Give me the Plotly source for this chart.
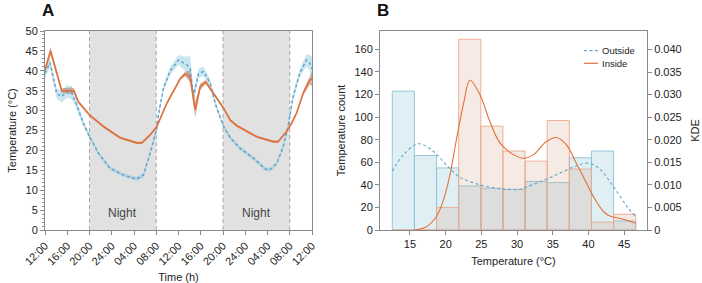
import plotly.graph_objects as go

# ---------------- Panel A data ----------------
time_ticks = [0, 4, 8, 12, 16, 20, 24, 28, 32, 36, 40, 44, 48]
time_labels = ["12:00", "16:00", "20:00", "24:00", "04:00", "08:00", "12:00",
               "16:00", "20:00", "24:00", "04:00", "08:00", "12:00"]
night_periods = [(8, 20), (32, 44)]

out_h = [0, 0.9, 2.1, 3.0, 3.9, 4.8, 5.7, 6.9, 8.0, 9.6, 11.7, 14.1, 16.5, 17.7,
         18.9, 19.5, 20.1, 20.4, 21.3, 22.5, 24.0, 25.5, 26.1, 26.7, 27.6, 28.5,
         29.7, 30.6, 32.1, 33.3, 35.1, 37.5, 39.6, 40.4, 41.7, 42.8, 43.7, 44.6,
         45.8, 47.0, 47.6, 48.0]
out_mean = [39.4, 42.0, 34.3, 33.5, 34.8, 34.5, 31.4, 26.8, 23.5, 19.3, 15.5, 13.8, 12.8, 13.8,
            19.3, 22.5, 25.5, 29.0, 35.6, 40.0, 42.7, 41.5, 40.5, 33.5, 39.4, 39.8,
            36.9, 31.8, 26.0, 23.2, 20.5, 18.0, 15.3, 15.1, 16.8, 20.9, 26.0, 33.5,
            39.4, 42.7, 42.0, 40.5]
out_err = [1.2, 1.2, 1.3, 1.5, 1.6, 1.6, 1.2, 0.8, 0.6, 0.5, 0.5, 0.5, 0.5, 0.6,
           0.6, 0.8, 0.8, 0.8, 0.8, 1.0, 1.2, 2.0, 3.5, 1.5, 1.2, 1.2,
           1.0, 0.8, 0.6, 0.6, 0.5, 0.5, 0.5, 0.5, 0.5, 0.6, 0.8, 0.8,
           1.0, 1.5, 2.0, 3.0]

in_h = [0, 1.0, 3.0, 4.8, 5.2, 6.0, 8.0, 10.5, 13.5, 16.5, 17.4, 18.9, 20.1, 21.9,
        24.3, 25.2, 26.1, 27.0, 27.9, 28.9, 30.3, 32.1, 33.3, 34.5, 38.1, 41.0,
        41.9, 43.4, 44.2, 45.2, 46.4, 47.6, 48.0]
in_mean = [40.2, 45.0, 35.0, 35.0, 35.0, 32.2, 28.9, 26.0, 23.2, 21.9, 21.9, 23.9, 26.0, 31.8,
           38.0, 39.2, 38.5, 30.2, 36.0, 37.2, 34.3, 30.6, 27.6, 26.2, 23.4, 22.2,
           22.2, 24.7, 26.5, 29.3, 34.3, 37.7, 38.0]
in_err = [0.6, 1.0, 0.6, 0.8, 0.6, 0.4, 0.3, 0.3, 0.3, 0.3, 0.3, 0.3, 0.3, 0.3,
          0.4, 0.6, 1.5, 2.0, 0.8, 0.5, 0.4, 0.3, 0.3, 0.3, 0.3, 0.3,
          0.3, 0.3, 0.3, 0.4, 0.6, 1.2, 1.8]

# ---------------- Panel B data ----------------
bin_edges = [12.52, 15.62, 18.72, 21.82, 24.92, 28.02, 31.12, 34.22, 37.32, 40.42, 43.52, 46.62]
outside_counts = [123, 66, 55, 39, 37, 36, 43, 42, 64, 70, 8]
inside_counts = [0, 0, 20, 169, 92, 70, 61, 97, 54, 7, 14]

kde_out_t = [12.5, 14.1, 16.2, 18.3, 20.1, 22.0, 24.8, 27.6, 29.0, 30.4, 31.1, 33.7, 36.0,
             38.3, 40.0, 41.6, 43.5, 45.4, 46.6]
kde_out = [0.0130, 0.0167, 0.0191, 0.0174, 0.0144, 0.0117, 0.0100, 0.0091, 0.0090, 0.0090,
           0.0094, 0.0110, 0.0126, 0.0142, 0.0148, 0.0135, 0.0096, 0.0052, 0.0030]
kde_in_t = [15.7, 17.3, 18.7, 19.7, 20.6, 21.5, 22.5, 23.4, 24.8, 26.2, 27.6, 29.5, 30.9,
            32.3, 34.1, 35.5, 36.9, 38.3, 39.5, 40.7, 42.1, 43.0, 44.9, 46.6]
kde_in = [0.0, 0.0007, 0.0030, 0.0067, 0.0122, 0.0200, 0.0280, 0.0332, 0.0300, 0.0240,
          0.0193, 0.0167, 0.0159, 0.0167, 0.0196, 0.0205, 0.0189, 0.0148, 0.0111, 0.0074,
          0.0041, 0.0031, 0.0024, 0.0015]

count_ticks = [0, 20, 40, 60, 80, 100, 120, 140, 160]
kde_ticks = [0, 0.005, 0.010, 0.015, 0.020, 0.025, 0.030, 0.035, 0.040]
kde_labels = ["0", "0.005", "0.010", "0.015", "0.020", "0.025", "0.030", "0.035", "0.040"]
legend_names = ["Outside", "Inside"]

# ---------------- styles ----------------
ORANGE = "#e2703a"
BLUE = "#5fa6cc"
AXC = "#8a8a8a"
FONT = "Liberation Sans"
TXT = "#222222"
DASH = "3px,2.5px"

fig = go.Figure()


def band(x, m, e, color, xa, ya):
    upper = [a + b for a, b in zip(m, e)]
    lower = [a - b for a, b in zip(m, e)]
    fig.add_trace(go.Scatter(x=x + x[::-1], y=upper + lower[::-1], fill="toself",
                             fillcolor=color, line=dict(width=0), hoverinfo="skip",
                             showlegend=False, xaxis=xa, yaxis=ya))


band(out_h, out_mean, out_err, "rgba(130,195,222,0.42)", "x", "y")
band(in_h, in_mean, in_err, "rgba(170,95,60,0.45)", "x", "y")
fig.add_trace(go.Scatter(x=out_h, y=out_mean, mode="lines",
                         line=dict(color=BLUE, width=1.5, dash=DASH),
                         showlegend=False, xaxis="x", yaxis="y"))
fig.add_trace(go.Scatter(x=in_h, y=in_mean, mode="lines",
                         line=dict(color=ORANGE, width=1.6),
                         showlegend=False, xaxis="x", yaxis="y"))

centers = [(a + b) / 2 for a, b in zip(bin_edges[:-1], bin_edges[1:])]
widths = [b - a for a, b in zip(bin_edges[:-1], bin_edges[1:])]
fig.add_trace(go.Bar(x=centers, y=outside_counts, width=widths,
                     marker=dict(color="rgba(170,212,226,0.38)",
                                 line=dict(color="rgba(140,195,215,0.9)", width=1)),
                     showlegend=False, xaxis="x2", yaxis="y2"))
fig.add_trace(go.Bar(x=centers, y=inside_counts, width=widths,
                     marker=dict(color="rgba(215,160,135,0.22)",
                                 line=dict(color="rgba(235,170,140,0.9)", width=1)),
                     showlegend=False, xaxis="x2", yaxis="y2"))
fig.add_trace(go.Scatter(x=kde_out_t, y=kde_out, mode="lines", name=legend_names[0],
                         line=dict(color=BLUE, width=1.1, dash=DASH, shape="spline"),
                         showlegend=False, xaxis="x2", yaxis="y3"))
fig.add_trace(go.Scatter(x=kde_in_t, y=kde_in, mode="lines", name=legend_names[1],
                         line=dict(color=ORANGE, width=1.1, shape="spline"),
                         showlegend=False, xaxis="x2", yaxis="y3"))

shapes = []
annotations = []
for s, e in night_periods:
    shapes.append(dict(type="rect", xref="x", yref="y", x0=s, x1=e, y0=0, y1=50,
                       fillcolor="#e1e1e1", line=dict(width=0), layer="below"))
    for xv in (s, e):
        shapes.append(dict(type="line", xref="x", yref="y", x0=xv, x1=xv, y0=0, y1=50,
                           line=dict(color="#a8a8a8", width=1, dash="4px,3px"), layer="below"))
    annotations.append(dict(x=(s + e) / 2, y=4.3, xref="x", yref="y", text="Night",
                            showarrow=False, font=dict(size=12, color="#444", family=FONT)))

# manual legend for panel B (compact, as in reference)
leg_rows = [(legend_names[0], BLUE, DASH, 50.7), (legend_names[1], ORANGE, "solid", 63.3)]
for name, col, dsh, ypx in leg_rows:
    yp = 1 - ypx / 283
    shapes.append(dict(type="line", xref="paper", yref="paper", x0=584 / 702, x1=598 / 702,
                       y0=yp, y1=yp, line=dict(color=col, width=1.2, dash=dsh)))
    annotations.append(dict(x=600 / 702, y=yp, xref="paper", yref="paper", text=name,
                            showarrow=False, xanchor="left", yanchor="middle",
                            font=dict(size=9.5, color=TXT, family=FONT)))

annotations += [
    dict(x=40 / 702, y=1 - 10 / 283, xref="paper", yref="paper", text="<b>A</b>",
         showarrow=False, font=dict(size=17, color="#111", family=FONT),
         xanchor="left", yanchor="middle"),
    dict(x=375 / 702, y=1 - 10 / 283, xref="paper", yref="paper", text="<b>B</b>",
         showarrow=False, font=dict(size=17, color="#111", family=FONT),
         xanchor="left", yanchor="middle"),
]

axis_common = dict(showline=True, linecolor=AXC, linewidth=1, mirror=True,
                   ticks="outside", tickcolor=AXC, ticklen=4, showgrid=False,
                   zeroline=False, automargin=False,
                   tickfont=dict(size=11, color=TXT, family=FONT))

fig.update_layout(
    width=702, height=283,
    margin=dict(l=0, r=0, t=0, b=0, autoexpand=False),
    paper_bgcolor="white", plot_bgcolor="white",
    font=dict(family=FONT, size=11, color=TXT),
    barmode="overlay", showlegend=False,
    shapes=shapes, annotations=annotations,
    xaxis=dict(domain=[45 / 702, 312 / 702], range=[0, 48], tickvals=time_ticks,
               ticktext=time_labels, tickangle=-45,
               title=dict(text="Time (h)", font=dict(size=11, family=FONT), standoff=6),
               anchor="y", **axis_common),
    yaxis=dict(domain=[53 / 283, 252 / 283], range=[0, 50], dtick=5,
               minor=dict(dtick=1, ticks="outside", ticklen=2, tickcolor=AXC),
               title=dict(text="Temperature (°C)", font=dict(size=11, family=FONT), standoff=6),
               anchor="x", **axis_common),
    xaxis2=dict(domain=[380 / 702, 647 / 702], range=[10.8, 48.2], tickvals=[15, 20, 25, 30, 35, 40, 45],
                title=dict(text="Temperature (°C)", font=dict(size=11, family=FONT), standoff=8),
                anchor="y2", **axis_common),
    yaxis2=dict(domain=[53 / 283, 252 / 283], range=[0, 176.3], tickvals=count_ticks,
                title=dict(text="Temperature count", font=dict(size=11, family=FONT), standoff=6),
                anchor="x2", **axis_common),
    yaxis3=dict(range=[0, 0.0441], tickvals=kde_ticks, ticktext=kde_labels,
                overlaying="y2", side="right", anchor="x2", showline=False,
                ticks="outside", tickcolor=AXC, ticklen=4, showgrid=False, zeroline=False,
                automargin=False,
                tickfont=dict(size=11, color=TXT, family=FONT),
                title=dict(text="KDE", font=dict(size=11, family=FONT), standoff=10)),
)

fig.write_html("out.html")
